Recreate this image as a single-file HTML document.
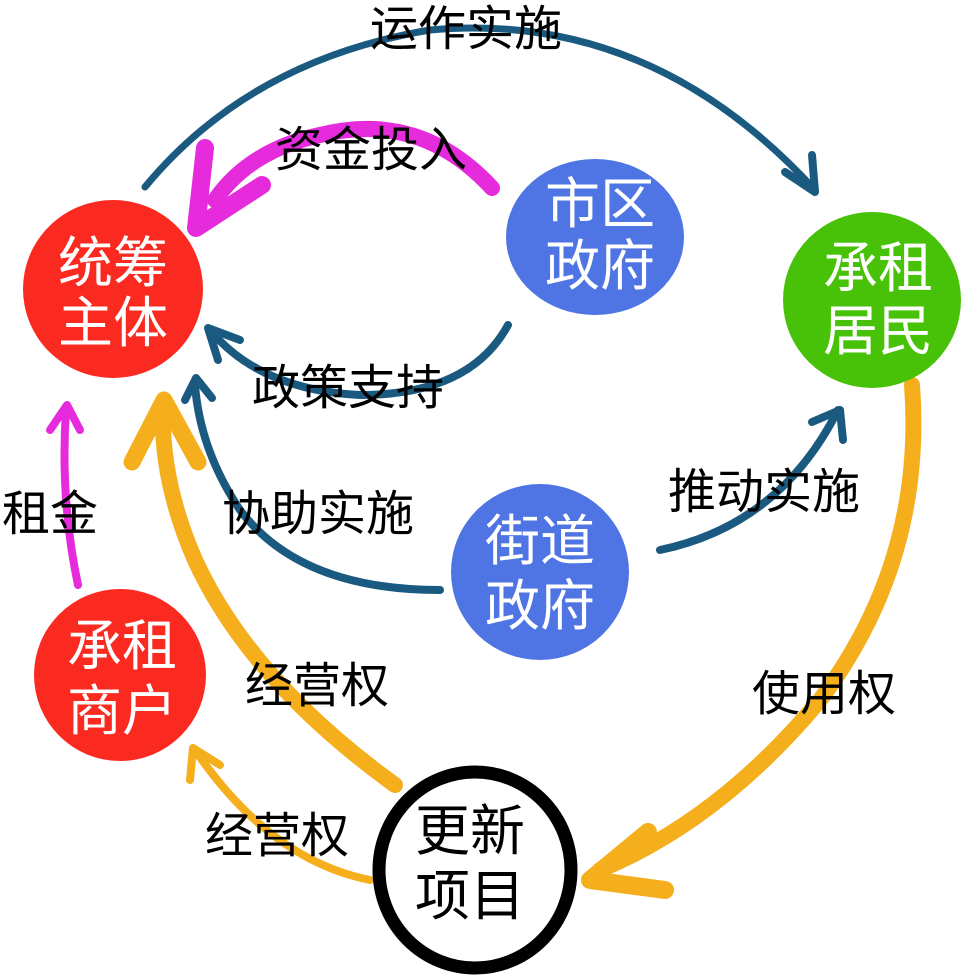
<!DOCTYPE html>
<html><head><meta charset="utf-8"><style>
html,body{margin:0;padding:0;background:#fff}
svg{display:block}
text{font-family:"Liberation Sans","Noto Sans CJK SC",sans-serif}
</style></head><body>
<svg width="967" height="977" viewBox="0 0 967 977" xmlns="http://www.w3.org/2000/svg">
<g fill="none" stroke-linecap="round" stroke-linejoin="round">
<path d="M145,187 Q250,60 430,30 Q650,10 815,190" stroke="#1b5a80" stroke-width="7"/>
<path d="M785,172 L815,192 L812,155" stroke="#1b5a80" stroke-width="8"/>
<path d="M492,188 Q420,110 320,135 Q250,150 215,200" stroke="#e52bdb" stroke-width="16"/>
<path d="M205,148 L196,228 L262,185" stroke="#e52bdb" stroke-width="18"/>
<path d="M508,325 Q470,395 360,395 Q260,390 210,330" stroke="#1b5a80" stroke-width="8"/>
<path d="M240,340 L208,328 L218,360" stroke="#1b5a80" stroke-width="8"/>
<path d="M440,590 Q300,590 240,510 Q200,450 195,385" stroke="#1b5a80" stroke-width="8"/>
<path d="M185,400 L196,378 L212,398" stroke="#1b5a80" stroke-width="8"/>
<path d="M660,550 Q780,525 838,410" stroke="#1b5a80" stroke-width="8"/>
<path d="M812,422 L840,410 L843,440" stroke="#1b5a80" stroke-width="8"/>
<path d="M78,585 Q60,500 66,410" stroke="#e52bdb" stroke-width="8"/>
<path d="M50,430 L67,405 L80,430" stroke="#e52bdb" stroke-width="8"/>
<path d="M395,785 Q250,680 195,560 Q160,480 163,405" stroke="#f5ae1c" stroke-width="16"/>
<path d="M132,462 L164,400 L198,462" stroke="#f5ae1c" stroke-width="17"/>
<path d="M912,385 Q925,560 820,700 Q720,820 600,870" stroke="#f5ae1c" stroke-width="16"/>
<path d="M648,832 L590,880 L665,890" stroke="#f5ae1c" stroke-width="18"/>
<path d="M370,880 Q270,860 195,750" stroke="#f5ae1c" stroke-width="8"/>
<path d="M190,780 L193,748 L220,765" stroke="#f5ae1c" stroke-width="8"/>
</g>
<ellipse cx="113" cy="289" rx="90" ry="89" fill="#fb2a21"/>
<ellipse cx="595" cy="237" rx="89" ry="78" fill="#4f74e4"/>
<ellipse cx="872" cy="300" rx="89" ry="88" fill="#47c208"/>
<ellipse cx="540" cy="572" rx="89" ry="88" fill="#4f74e4"/>
<ellipse cx="120" cy="675" rx="86" ry="86" fill="#fb2a21"/>
<ellipse cx="475" cy="870" rx="96" ry="98" fill="#fff" stroke="#000" stroke-width="13"/>
<g font-size="55" fill="#fff" text-anchor="middle">
<text x="113" y="282">统筹</text><text x="113" y="342">主体</text>
<text x="600" y="223">市区</text><text x="600" y="285">政府</text>
<text x="878" y="287">承租</text><text x="878" y="350">居民</text>
<text x="540" y="560">街道</text><text x="540" y="625">政府</text>
<text x="122" y="665">承租</text><text x="122" y="730">商户</text>
</g>
<g font-size="55" fill="#000" text-anchor="middle">
<text x="470" y="850">更新</text><text x="470" y="915">项目</text>
</g>
<g font-size="48" fill="#000">
<text x="370" y="45">运作实施</text>
<text x="275" y="166">资金投入</text>
<text x="252" y="404">政策支持</text>
<text x="222" y="530">协助实施</text>
<text x="668" y="508">推动实施</text>
<text x="2" y="530">租金</text>
<text x="245" y="702">经营权</text>
<text x="752" y="710">使用权</text>
<text x="205" y="852">经营权</text>
</g>
</svg>
</body></html>
